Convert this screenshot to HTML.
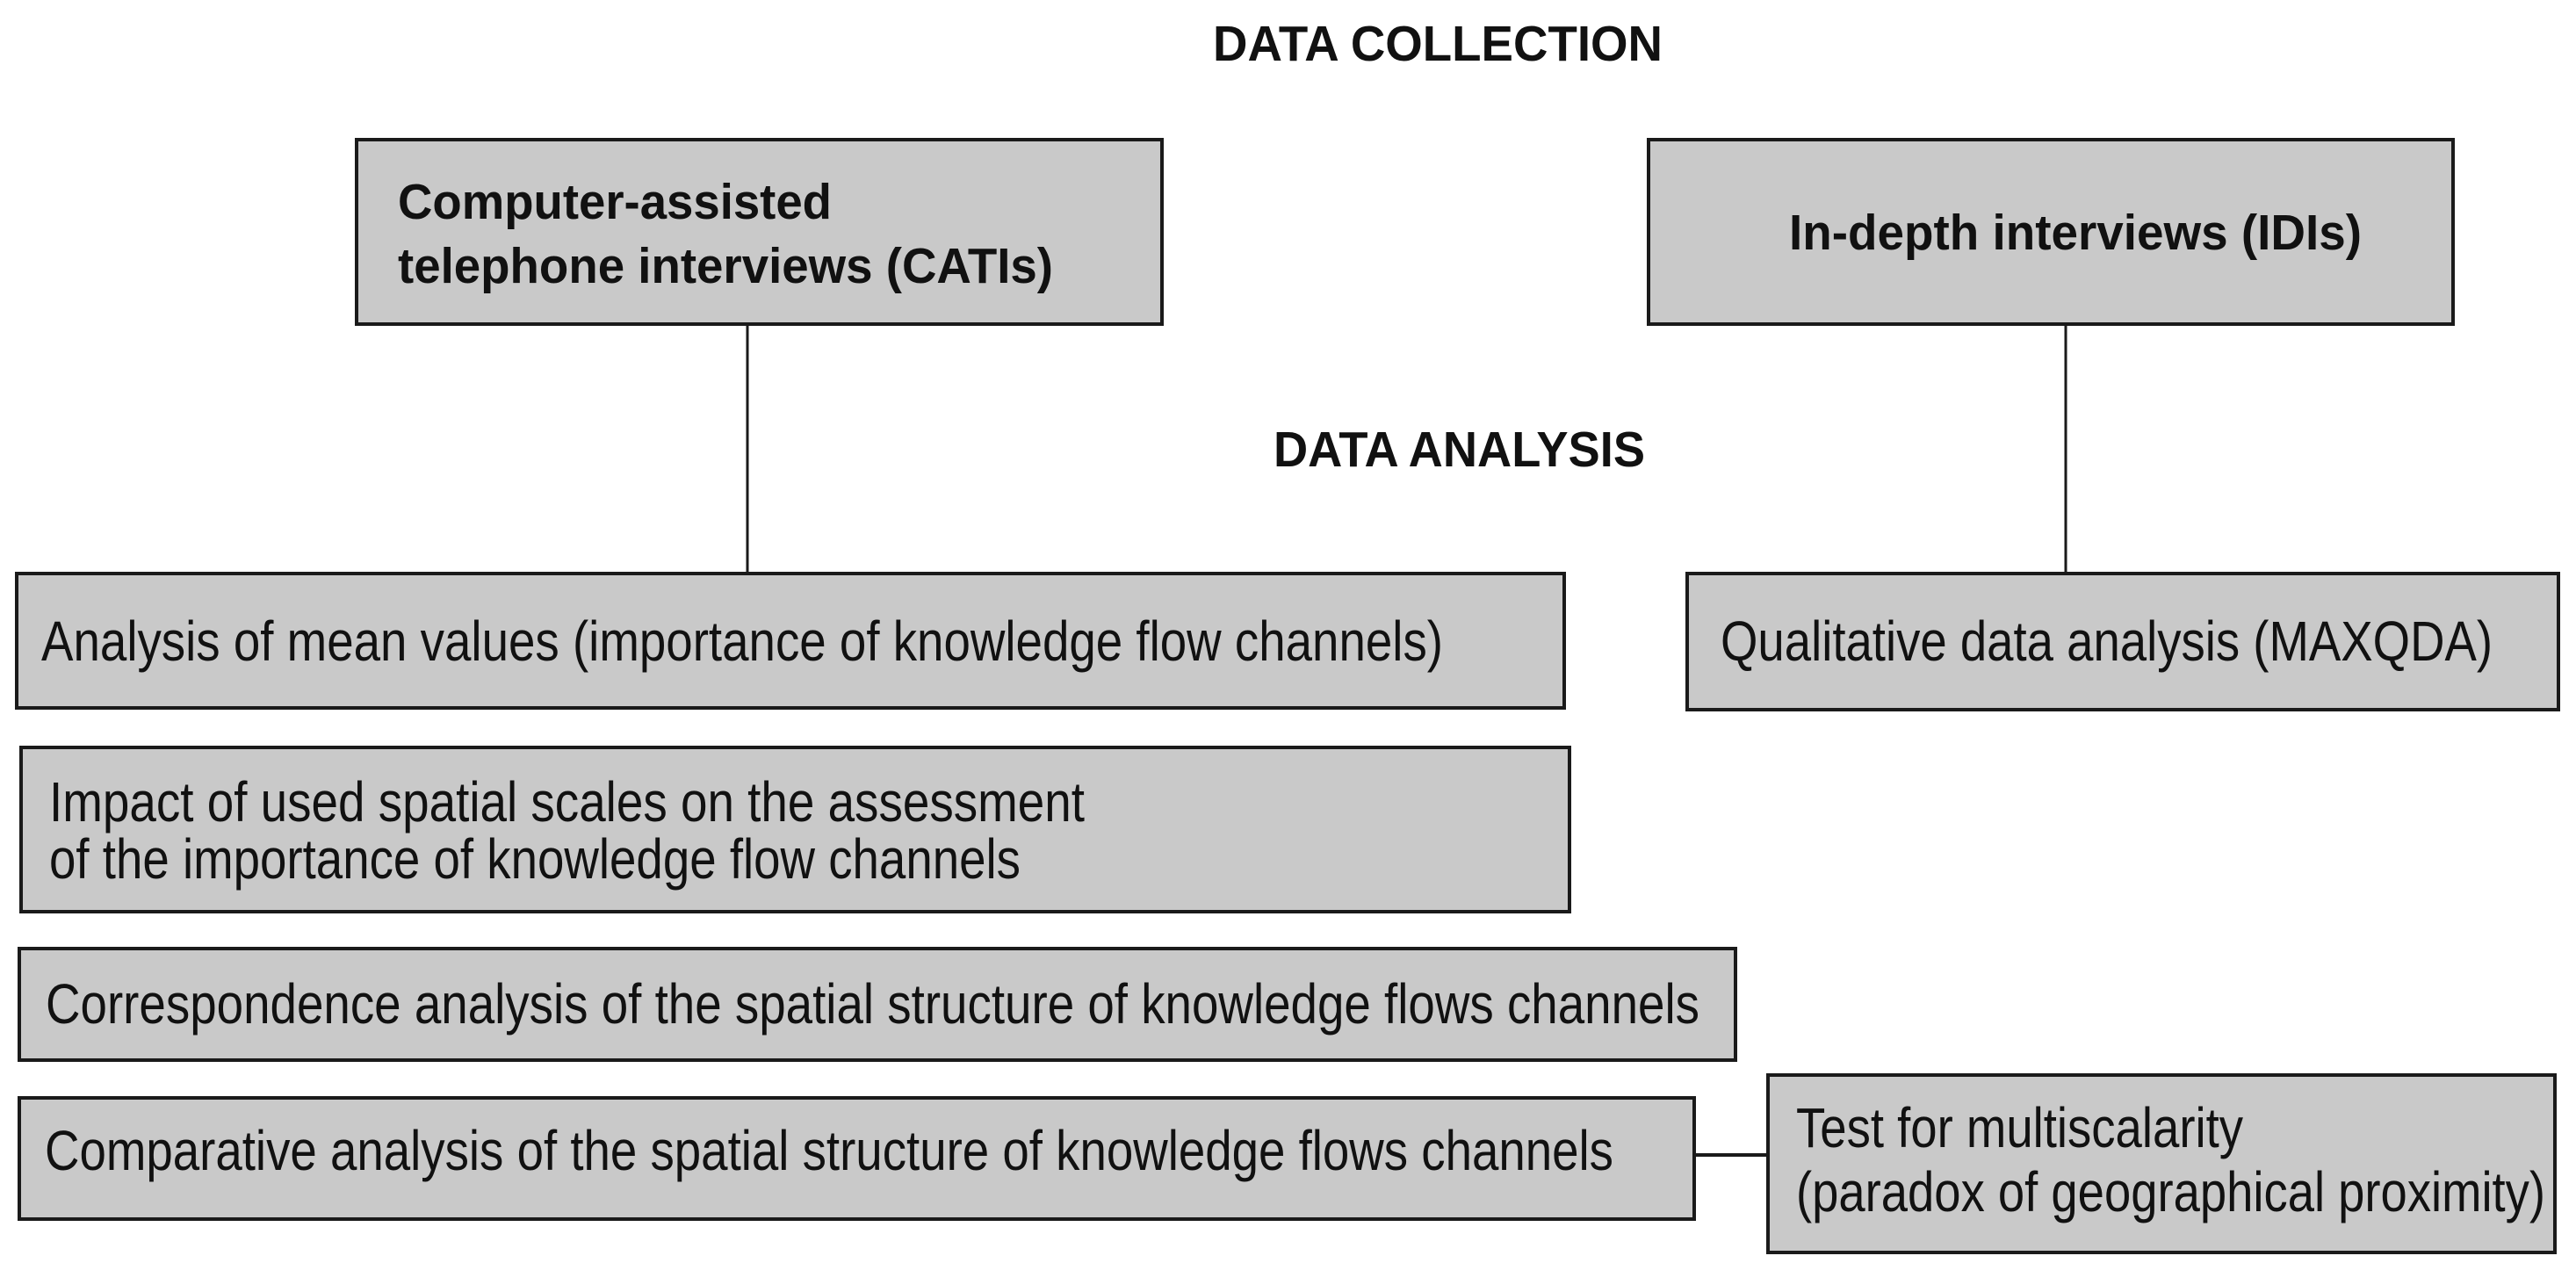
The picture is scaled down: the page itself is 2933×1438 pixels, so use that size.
<!DOCTYPE html>
<html><head><meta charset="utf-8"><style>html,body{margin:0;padding:0;background:#fff}svg{display:block}</style></head>
<body>
<svg width="2933" height="1438" viewBox="0 0 2933 1438" xmlns="http://www.w3.org/2000/svg" font-family="'Liberation Sans Narrow','Liberation Sans',sans-serif" fill="#111">
<g stroke="#1a1a1a" stroke-width="4" fill="#c9c9c9">
<rect x="406" y="159" width="917" height="210"/>
<rect x="1877" y="159" width="916" height="210"/>
<rect x="19" y="653" width="1762" height="153"/>
<rect x="1921" y="653" width="992" height="155"/>
<rect x="24" y="851" width="1763" height="187"/>
<rect x="22" y="1080" width="1954" height="127"/>
<rect x="22" y="1250" width="1907" height="138"/>
<rect x="2013" y="1224" width="896" height="202"/>
</g>
<g stroke="#1a1a1a" stroke-width="3">
<line x1="851" y1="369" x2="851" y2="653"/>
<line x1="2352" y1="369" x2="2352" y2="653"/>
<line x1="1929" y1="1315" x2="2013" y2="1315" stroke-width="4"/>
</g>
<g font-weight="bold" font-size="57" lengthAdjust="spacingAndGlyphs">
<text x="1381" y="69" textLength="512" lengthAdjust="spacingAndGlyphs">DATA COLLECTION</text>
<text x="453" y="249" textLength="494" lengthAdjust="spacingAndGlyphs">Computer-assisted</text>
<text x="453" y="322" textLength="746" lengthAdjust="spacingAndGlyphs">telephone interviews (CATIs)</text>
<text x="2037" y="284" textLength="652" lengthAdjust="spacingAndGlyphs">In-depth interviews (IDIs)</text>
<text x="1450" y="531" textLength="423" lengthAdjust="spacingAndGlyphs">DATA ANALYSIS</text>
</g>
<g font-size="64">
<text x="47" y="752" textLength="1596" lengthAdjust="spacingAndGlyphs">Analysis of mean values (importance of knowledge flow channels)</text>
<text x="1959" y="752" textLength="879" lengthAdjust="spacingAndGlyphs">Qualitative data analysis (MAXQDA)</text>
<text x="56" y="935" textLength="1179" lengthAdjust="spacingAndGlyphs">Impact of used spatial scales on the assessment</text>
<text x="56" y="1000" textLength="1106" lengthAdjust="spacingAndGlyphs">of the importance of knowledge flow channels</text>
<text x="52" y="1165" textLength="1883" lengthAdjust="spacingAndGlyphs">Correspondence analysis of the spatial structure of knowledge flows channels</text>
<text x="51" y="1332" textLength="1786" lengthAdjust="spacingAndGlyphs">Comparative analysis of the spatial structure of knowledge flows channels</text>
<text x="2045" y="1306" textLength="509" lengthAdjust="spacingAndGlyphs">Test for multiscalarity</text>
<text x="2045" y="1379" textLength="853" lengthAdjust="spacingAndGlyphs">(paradox of geographical proximity)</text>
</g>
</svg>
</body></html>
